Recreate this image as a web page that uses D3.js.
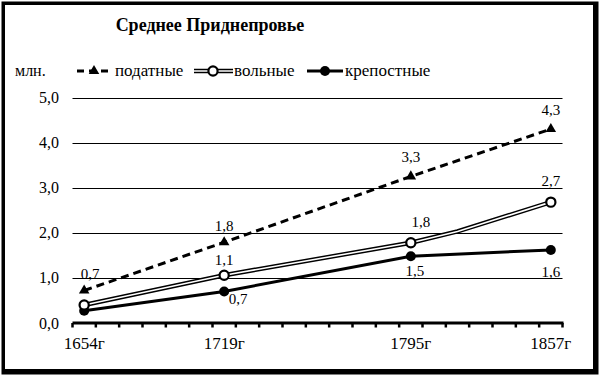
<!DOCTYPE html>
<html><head><meta charset="utf-8">
<script src="https://cdn.jsdelivr.net/npm/d3@7/dist/d3.min.js"></script>
<style>
html,body{margin:0;padding:0;background:#fff;}
svg{display:block;}
</style></head>
<body>
<svg id="chart" width="600" height="375"></svg>
<script>
// ---- data ----
const title = "Среднее Приднепровье";
const unitLabel = "млн.";
const categories = ["1654г","","","","","","1719г","","","","","","","","1795г","","","","","","1857г"];
const seriesNames = ["податные","вольные","крепостные"];
const podatnye   = [0.72,null,null,null,null,null,1.79,null,null,null,null,null,null,null,3.25,null,null,null,null,null,4.3];
const volnye     = [0.40,null,null,null,null,null,1.06,null,null,null,null,null,null,null,1.78,null,2.03,null,null,null,2.68];
const krepostnye = [0.27,null,null,null,null,null,0.70,null,null,null,null,null,null,null,1.48,null,null,null,null,null,1.62];
const yTicks = [0,1,2,3,4,5];
// which marked points carry a value label
const podLabelShow  = [true,true,true,true];
const volLabelShow  = [false,true,true,true];
const krepLabelShow = [false,true,true,true];

// ---- layout / style ----
const FONT = '"Liberation Serif"';
const serif = sel => sel.style("font-family", FONT).attr("fill","#000");
const plot = {left:72.5, right:562.5, top:97.5, bottom:323};
const svg = d3.select("#chart");

// frame with shadow
svg.append("rect").attr("x",1.5).attr("y",1.5).attr("width",597).attr("height",373).attr("fill","#000");
svg.append("rect").attr("x",5).attr("y",5).attr("width",588).attr("height",364).attr("fill","#fff");

const x = d3.scaleBand().domain(d3.range(categories.length)).range([plot.left, plot.right]).paddingInner(0).paddingOuter(0);
const xc = i => x(i) + x.bandwidth()/2;
const y = d3.scaleLinear().domain([0,5]).range([plot.bottom, plot.top]);

// grid
svg.append("g").selectAll("line").data(yTicks.filter(d=>d>0)).join("line")
  .attr("x1",plot.left).attr("x2",plot.right)
  .attr("y1",d=>Math.round(y(d))+0.5).attr("y2",d=>Math.round(y(d))+0.5)
  .attr("stroke","#000").attr("stroke-width",1);

// y axis labels
const fmt = v => d3.format(".1f")(v).replace(".", ",");
svg.append("g").selectAll("text").data(yTicks).join("text")
  .attr("x",59).attr("y",d=>y(d)+5.5)
  .attr("text-anchor","end").attr("font-size",16)
  .call(serif).text(fmt);

// x axis
const xAxis = d3.axisBottom(x).tickSize(0).tickFormat(i=>categories[i]);
const gx = svg.append("g").attr("transform",`translate(0,${plot.bottom})`).call(xAxis);
gx.select(".domain").remove();
gx.selectAll("text").attr("font-size",17).attr("dy",null).attr("y",26).call(serif);
// baseline and ticks at band boundaries
svg.append("line").attr("x1",plot.left).attr("x2",plot.right+1)
  .attr("y1",plot.bottom).attr("y2",plot.bottom).attr("stroke","#000").attr("stroke-width",3);
const bounds = d3.range(categories.length+1).map(i => i<categories.length ? x(i) : x(i-1)+x.bandwidth());
svg.append("g").selectAll("line").data(bounds).join("line")
  .attr("x1",d=>d).attr("x2",d=>d).attr("y1",plot.bottom).attr("y2",plot.bottom+4.5)
  .attr("stroke","#000").attr("stroke-width",2.5);

// ---- lines ----
const pts = arr => arr.map((v,i)=>({i,v})).filter(d=>d.v!==null);
const marked = arr => arr.map((v,i)=>({i,v})).filter(d=>d.v!==null && categories[d.i]!=="");
const line = d3.line().x(d=>xc(d.i)).y(d=>y(d.v));

svg.append("path").datum(pts(podatnye)).attr("d",line)
  .attr("fill","none").attr("stroke","#000").attr("stroke-width",3).attr("stroke-dasharray","8,5");
svg.append("path").datum(pts(krepostnye)).attr("d",line)
  .attr("fill","none").attr("stroke","#000").attr("stroke-width",3);
svg.append("path").datum(pts(volnye)).attr("d",line)
  .attr("fill","none").attr("stroke","#000").attr("stroke-width",4.5);
svg.append("path").datum(pts(volnye)).attr("d",line)
  .attr("fill","none").attr("stroke","#fff").attr("stroke-width",1.6);

// markers
const tri = d3.symbol().type(d3.symbolTriangle).size(48);
svg.append("g").selectAll("path").data(marked(podatnye)).join("path")
  .attr("d",tri).attr("transform",d=>`translate(${xc(d.i)},${y(d.v)})`).attr("fill","#000");
svg.append("g").selectAll("circle").data(marked(krepostnye)).join("circle")
  .attr("cx",d=>xc(d.i)).attr("cy",d=>y(d.v)).attr("r",5).attr("fill","#000");
svg.append("g").selectAll("circle").data(marked(volnye)).join("circle")
  .attr("cx",d=>xc(d.i)).attr("cy",d=>y(d.v)).attr("r",4.6).attr("fill","#fff").attr("stroke","#000").attr("stroke-width",2.2);

// value labels (offsets per point)
const podOff  = [[6,-12],[0,-11],[0,-14],[0,-14]];
const volOff  = [[0,-12],[0,-10],[10,-16],[0,-16]];
const krepOff = [[0,16],[14,13],[4,20],[0,27]];
function labels(arr, show, off){
  const m = marked(arr).map((d,k)=>({...d,k})).filter(d=>show[d.k]);
  svg.append("g").selectAll("text").data(m).join("text")
    .attr("x",d=>xc(d.i)+off[d.k][0]).attr("y",d=>y(d.v)+off[d.k][1])
    .attr("text-anchor","middle").attr("font-size",15).call(serif).text(d=>fmt(d.v));
}
labels(podatnye, podLabelShow, podOff);
labels(volnye, volLabelShow, volOff);
labels(krepostnye, krepLabelShow, krepOff);

// title
svg.append("text").attr("x",210).attr("y",31).attr("text-anchor","middle")
  .attr("font-size",18).attr("font-weight","bold").call(serif).text(title);
svg.append("text").attr("x",15).attr("y",76).attr("font-size",16).call(serif).text(unitLabel);

// legend
const lg = svg.append("g");
const legY = 71;
lg.append("line").attr("x1",77).attr("x2",112).attr("y1",legY).attr("y2",legY)
  .attr("stroke","#000").attr("stroke-width",3).attr("stroke-dasharray","7,5");
lg.append("path").attr("d",tri).attr("transform",`translate(94,${legY})`).attr("fill","#000");
lg.append("text").attr("x",115).attr("y",legY+5).attr("font-size",17).call(serif).text(seriesNames[0]);
lg.append("line").attr("x1",194).attr("x2",233).attr("y1",legY).attr("y2",legY).attr("stroke","#000").attr("stroke-width",4.5);
lg.append("line").attr("x1",194).attr("x2",233).attr("y1",legY).attr("y2",legY).attr("stroke","#fff").attr("stroke-width",1.6);
lg.append("circle").attr("cx",213).attr("cy",legY).attr("r",4.6).attr("fill","#fff").attr("stroke","#000").attr("stroke-width",2.2);
lg.append("text").attr("x",234).attr("y",legY+5).attr("font-size",17).call(serif).text(seriesNames[1]);
lg.append("line").attr("x1",307).attr("x2",343).attr("y1",legY).attr("y2",legY).attr("stroke","#000").attr("stroke-width",3);
lg.append("circle").attr("cx",325).attr("cy",legY).attr("r",5).attr("fill","#000");
lg.append("text").attr("x",345).attr("y",legY+5).attr("font-size",17).call(serif).text(seriesNames[2]);
</script>
</body></html>
